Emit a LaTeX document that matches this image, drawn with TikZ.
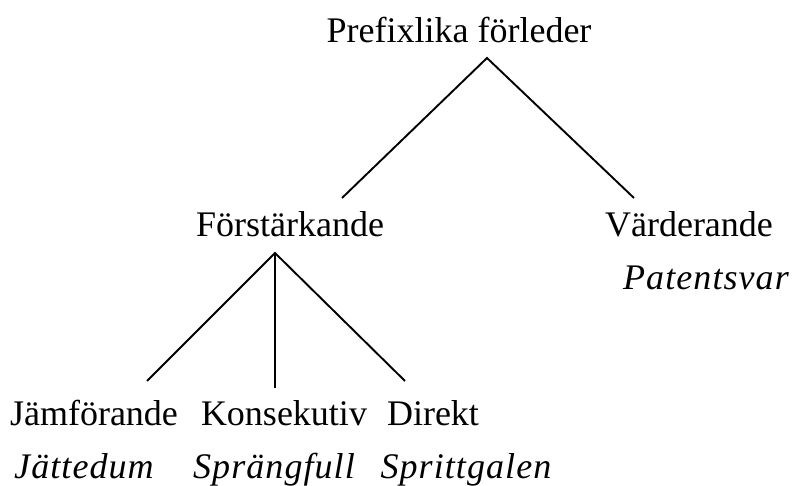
\documentclass[tikz,border=0pt]{standalone}
\usepackage{fontspec}
\setmainfont{Liberation Serif}
\begin{document}
\begin{tikzpicture}[x=1pt,y=-1pt,
  lbl/.style={anchor=base,inner sep=0pt,font=\fontsize{36}{40}\selectfont},
  ex/.style={lbl,font=\fontsize{36}{40}\selectfont\itshape\addfontfeature{LetterSpace=3}},
  edge/.style={line width=1.9pt}]
\useasboundingbox (0,0) rectangle (793,486);
% labels
\node[lbl] (root) at (459,43) {Prefixlika förleder};
\node[lbl] (forst) at (290,237) {Förstärkande};
\node[lbl] (varde) at (689,237) {Värderande};
\node[ex]  (pat) at (706,290) {Patentsvar};
\node[lbl] (jamf) at (94,425) {Jämförande};
\node[lbl] (kons) at (284,425) {Konsekutiv};
\node[lbl] (dir) at (433,425) {Direkt};
\node[ex]  (jatt) at (84,478) {Jättedum};
\node[ex]  (spra) at (274,478) {Sprängfull};
\node[ex]  (spri) at (466,478) {Sprittgalen};
% connector ends
\coordinate (rootJ) at (487,58);
\coordinate (forstT) at (342,198);
\coordinate (vardeT) at (634,198);
\coordinate (forstJ) at (275,253);
\coordinate (jamfT) at (147,381);
\coordinate (konsT) at (275,388);
\coordinate (dirT) at (405,381);
\draw[edge] (forstT) -- (rootJ) -- (vardeT);
\draw[edge] (jamfT) -- (forstJ) -- (dirT);
\draw[edge] (forstJ) -- (konsT);
\end{tikzpicture}
\end{document}
